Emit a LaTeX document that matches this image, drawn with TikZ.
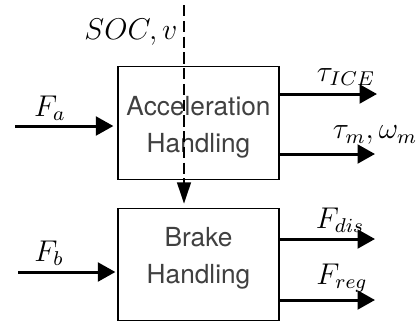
\documentclass[tikz,border=0pt]{standalone}
\usepackage{fontspec}
\newfontfamily\blockfont{TeX Gyre Heros}
\usetikzlibrary{arrows.meta}
\begin{document}
\begin{tikzpicture}[x=0.4pt,y=-0.4pt,
    block/.style={draw,line width=0.5pt,minimum width=64.4pt,minimum height=45pt},
    blocktext/.style={align=center,font=\blockfont\fontsize{10.5}{11.6}\selectfont,text=black!75},
    sig/.style={line width=1.2pt,-{Triangle[length=7pt,width=7.5pt]}},
    lbl/.style={font=\fontsize{11.5}{14}\selectfont}]
    \useasboundingbox (0,0) rectangle (420,323);
    \node[block] (acc) at (198.5,123) {};
    \node[block] (brk) at (198.5,264.5) {};
    \node[blocktext] (acctext) at (198.5,127) {Acceleration\\[0.6ex]Handling};
    \node[blocktext] (brktext) at (198.5,258) {Brake\\[0.6ex]Handling};
    \coordinate (fa) at (15,126);
    \coordinate (fb) at (18,272);
    \coordinate (tice) at (377,94);
    \coordinate (tm) at (375,154);
    \coordinate (fdis) at (375,239);
    \coordinate (freg) at (375,300);
    \coordinate (soc) at (184,5);
    \draw[sig,shorten >=1.6pt] (fa) -- (fa -| acc.west);
    \draw[sig,shorten >=0.8pt] (fb) -- (fb -| brk.west);
    \draw[sig] (acc.east |- tice) -- (tice);
    \draw[sig] (acc.east |- tm) -- (tm);
    \draw[sig] (brk.east |- fdis) -- (fdis);
    \draw[sig] (brk.east |- freg) -- (freg);
    \draw[line width=0.8pt,dash pattern=on 4.5pt off 1.8pt,shorten >=1.6pt,
        -{Triangle[length=8.5pt,width=5.5pt]}] (soc) -- (soc |- brk.north);
    \node[lbl] (lsoc) at (131,32) {$SOC,v$};
    \node[lbl] (lfa) at (50,108) {$F_a$};
    \node[lbl] (lfb) at (49,253) {$F_b$};
    \node[lbl] (ltice) at (346,77) {$\tau_{ICE}$};
    \node[lbl] (ltm) at (375,135) {$\tau_m,\omega_m$};
    \node[lbl] (lfdis) at (340,220) {$F_{dis}$};
    \node[lbl] (lfreg) at (342,278) {$F_{reg}$};
\end{tikzpicture}
\end{document}
